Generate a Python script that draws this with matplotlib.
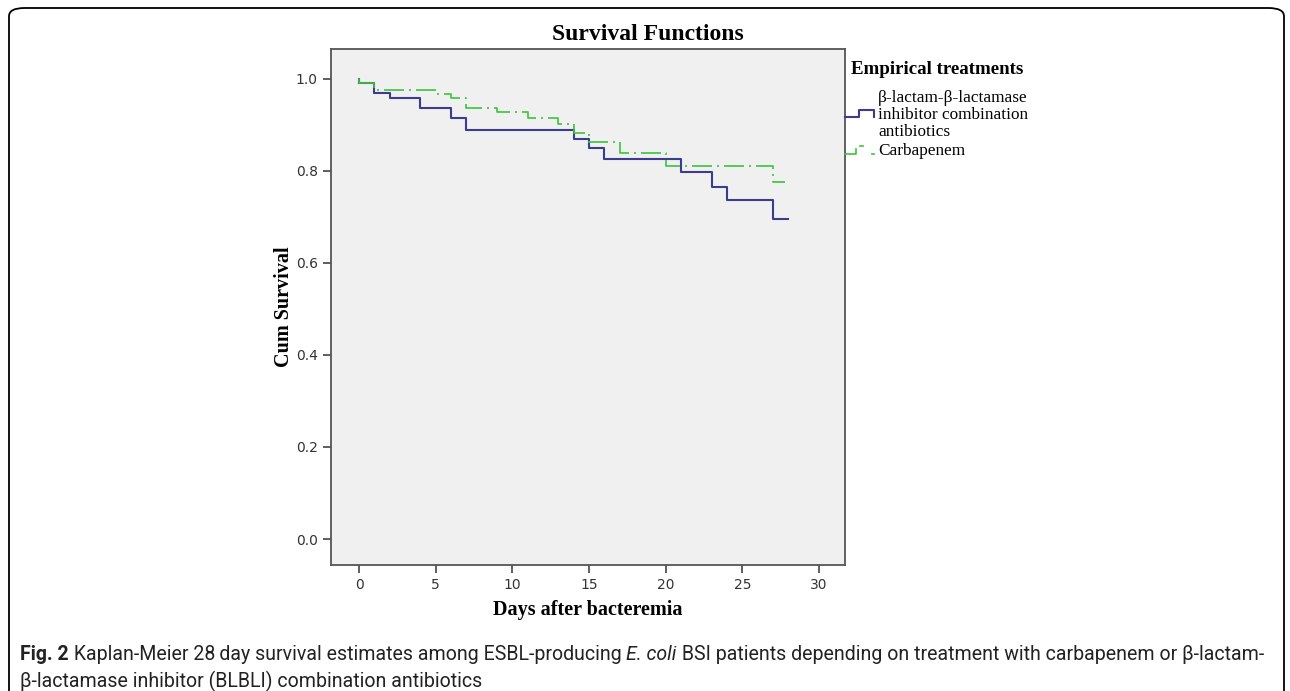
import matplotlib
matplotlib.use("Agg")
import matplotlib.pyplot as plt
from matplotlib.lines import Line2D
from matplotlib.patches import FancyBboxPatch

# survival steps
blbli_days = [0, 1, 2, 4, 6, 7, 14, 15, 16, 21, 23, 24, 27, 28]
blbli_surv = [0.991, 0.970, 0.959, 0.937, 0.915, 0.889, 0.870, 0.850, 0.826,
              0.798, 0.765, 0.737, 0.696, 0.696]

carba_days = [0, 1, 5, 6, 7, 9, 11, 13, 14, 15, 17, 20, 27, 27.8]
carba_surv = [0.991, 0.976, 0.967, 0.959, 0.937, 0.928, 0.915, 0.902, 0.883,
              0.863, 0.839, 0.811, 0.776, 0.776]

x_ticks = [0, 5, 10, 15, 20, 25, 30]
y_ticks = [0.0, 0.2, 0.4, 0.6, 0.8, 1.0]

BLUE = "#3d3b8e"
GREEN = "#3cc43c"
SERIF = "Liberation Serif"
W, H = 1290, 691

fig = plt.figure(figsize=(12.9, 6.91), dpi=100)
fig.patch.set_facecolor("white")

# rounded frame around the whole figure
frame = FancyBboxPatch((9 / W, -0.05), (1284 - 9) / W, 1 - 8 / H + 0.05,
                       boxstyle="round,pad=0,rounding_size=0.012",
                       transform=fig.transFigure, fill=False,
                       edgecolor="black", linewidth=1.3)
fig.patches.append(frame)

ax = fig.add_axes([331 / W, 1 - 565 / H, (845 - 331) / W, (565 - 49) / H])
ax.set_facecolor("#f0f0f0")

ax.step(blbli_days, blbli_surv, where="post", color=BLUE, linewidth=1.5)
ax.plot([0, 0], [1.0, blbli_surv[0]], color=BLUE, linewidth=1.5)
ax.step(carba_days, carba_surv, where="post", color=GREEN, linewidth=1.2,
        linestyle=(0, (12, 3, 1.2, 3)))
ax.plot([0, 0], [1.0, carba_surv[0]], color=GREEN, linewidth=1.2)

ax.set_xlim(-1.83, 31.7)
ax.set_ylim(-0.0565, 1.065)
ax.set_xticks(x_ticks)
ax.set_yticks(y_ticks)
ax.set_yticklabels([f"{v:.1f}" for v in y_ticks])
ax.tick_params(direction="out", length=6, width=1.2, colors="#444444",
               labelsize=10, labelcolor="#333333")
for s in ax.spines.values():
    s.set_color("#555555")
    s.set_linewidth(1.3)

ax.set_xlabel("Days after bacteremia", family=SERIF, fontweight="bold", fontsize=14.5)
ax.set_ylabel("Cum Survival", family=SERIF, fontweight="bold", fontsize=14.5)
ax.xaxis.set_label_coords(0.5, -0.068)
ax.yaxis.set_label_coords(-0.072, 0.5)

fig.text(648 / W, 1 - 34 / H, "Survival Functions", family=SERIF,
         fontweight="bold", fontsize=17, ha="center", va="center")

# legend, drawn by hand like the SPSS output
fig.text(851 / W, 1 - 70 / H, "Empirical treatments", family=SERIF,
         fontweight="bold", fontsize=13.6, ha="left", va="center")
fig.text(878 / W, 1 - 115 / H,
         "\u03b2-lactam-\u03b2-lactamase\ninhibitor combination\nantibiotics",
         family=SERIF, fontsize=12.4, ha="left", va="center", linespacing=1.1)
fig.text(878 / W, 1 - 151 / H, "Carbapenem", family=SERIF, fontsize=12.4,
         ha="left", va="center")


def px(xs, ys):
    return [x / W for x in xs], [1 - y / H for y in ys]


bx, by = px([845, 859, 859, 874, 874], [117, 117, 110, 110, 117])
fig.lines.append(Line2D(bx, by, transform=fig.transFigure, color=BLUE, linewidth=1.5))
gx, gy = px([845, 856, 856], [154, 154, 149])
fig.lines.append(Line2D(gx, gy, transform=fig.transFigure, color=GREEN, linewidth=1.2))
gx, gy = px([860, 863], [146, 146])
fig.lines.append(Line2D(gx, gy, transform=fig.transFigure, color=GREEN, linewidth=1.2))
gx, gy = px([872, 873.5], [154, 154])
fig.lines.append(Line2D(gx, gy, transform=fig.transFigure, color=GREEN, linewidth=1.2))

# caption with mixed styles, placed piece by piece
renderer = fig.canvas.get_renderer()
CAP = ["Roboto", "DejaVu Sans"]

line1 = [("Fig. 2", "bold", "normal"),
         (" Kaplan-Meier 28\u2009day survival estimates among ESBL-producing ",
          "normal", "normal"),
         ("E. coli", "normal", "italic"),
         (" BSI patients depending on treatment with carbapenem or \u03b2-lactam-",
          "normal", "normal")]
line2 = [("\u03b2-lactamase inhibitor (BLBLI) combination antibiotics",
          "normal", "normal")]


def caption_line(pieces, x0, y, size, draw=True):
    x = x0
    for txt, weight, style in pieces:
        t = fig.text(x / W, 1 - y / H, txt, family=CAP, fontsize=size,
                     fontweight=weight, fontstyle=style, ha="left",
                     va="center", color="#222222")
        x += t.get_window_extent(renderer=renderer).width
        if not draw:
            t.remove()
    return x - x0


# fit the first caption line to the width it has in the reference
cap_size = 13 * (1264 - 20) / caption_line(line1, 20, 655, 13, draw=False)
caption_line(line1, 20, 655, cap_size)
caption_line(line2, 20, 681, cap_size)

fig.savefig("out.png", dpi=100)
